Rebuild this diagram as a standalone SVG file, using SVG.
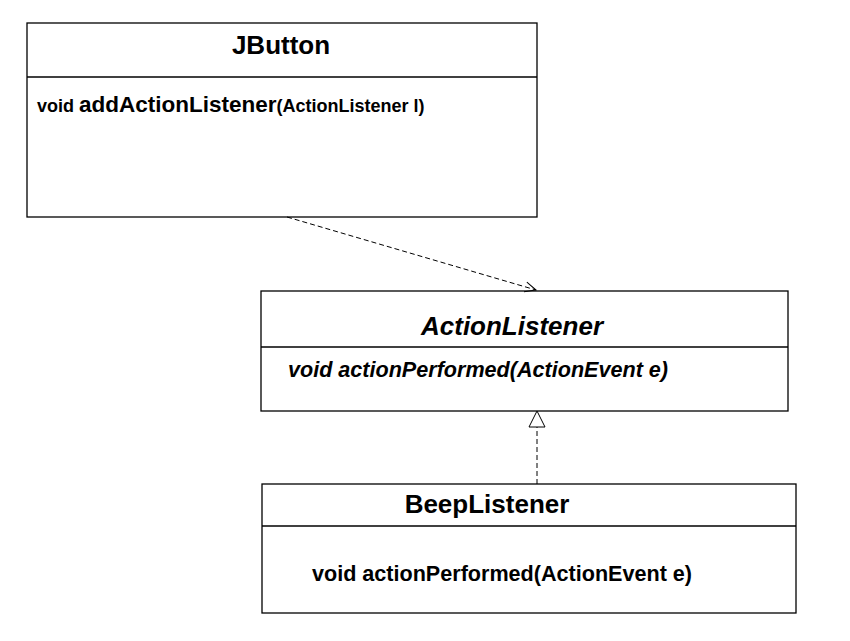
<svg xmlns="http://www.w3.org/2000/svg" width="850" height="641" viewBox="0 0 850 641">
<style>
.box{fill:#fff;stroke:#000;stroke-width:1.3}
.div{stroke:#000;stroke-width:1.3}
.t{font-family:"Liberation Sans",Arial,sans-serif;font-weight:bold;fill:#000}
.title{font-size:26px}
.m{font-size:21.5px}
.s{font-size:18px}
.big{font-size:22.5px}
.conn{fill:none;stroke:#000;stroke-width:1;stroke-dasharray:5,3}
</style>
<defs>
<marker id="open" markerWidth="14" markerHeight="12" refX="12" refY="6" orient="auto" markerUnits="userSpaceOnUse">
<path d="M1,1 L12,6 L1,11" fill="none" stroke="#000" stroke-width="1"/>
</marker>
</defs>
<rect width="850" height="641" fill="#fff"/>
<g id="JButton">
<rect class="box" x="27" y="23" width="510" height="194"/>
<line class="div" x1="27" y1="77" x2="537" y2="77"/>
<text class="t title" x="281" y="54" text-anchor="middle">JButton</text>
<text class="t" x="37" y="112"><tspan class="s">void </tspan><tspan class="big">addActionListener</tspan><tspan class="s">(ActionListener l)</tspan></text>
</g>
<g id="ActionListener">
<rect class="box" x="261" y="291" width="527" height="120"/>
<line class="div" x1="261" y1="347" x2="788" y2="347"/>
<text class="t title" x="512" y="335" text-anchor="middle" font-style="italic">ActionListener</text>
<text class="t m" x="288" y="377" font-style="italic" textLength="380" lengthAdjust="spacingAndGlyphs">void actionPerformed(ActionEvent e)</text>
</g>
<g id="BeepListener">
<rect class="box" x="262" y="484" width="534" height="129"/>
<line class="div" x1="262" y1="526" x2="796" y2="526"/>
<text class="t title" x="487" y="513" text-anchor="middle">BeepListener</text>
<text class="t m" x="312" y="581" textLength="380" lengthAdjust="spacingAndGlyphs">void actionPerformed(ActionEvent e)</text>
</g>
<g id="connectors">
<line class="conn" x1="287" y1="217" x2="536" y2="290" marker-end="url(#open)"/>
<line class="conn" x1="537" y1="484" x2="537" y2="427"/>
<path d="M537,411 L529,427 L545,427 Z" fill="#fff" stroke="#000" stroke-width="1"/>
</g>
</svg>
